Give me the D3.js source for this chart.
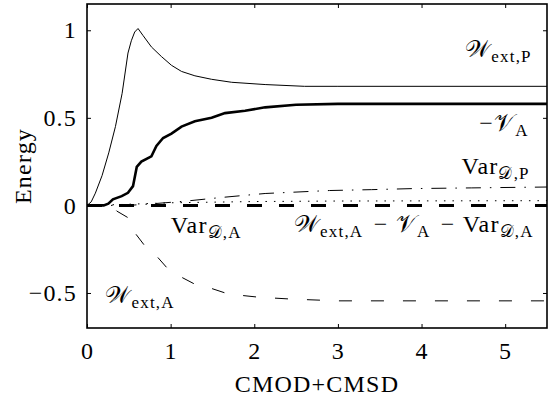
<!DOCTYPE html>
<html><head><meta charset="utf-8">
<script src="https://cdn.jsdelivr.net/npm/d3@7"></script>
<style>
html,body{margin:0;padding:0;background:#fff;}
svg text{font-family:'Liberation Serif','DejaVu Serif',serif !important;fill:#000;letter-spacing:1.2px;}
</style></head>
<body>
<svg id="c" width="554" height="402"></svg>
<script>
// ---- data ----
const xTicks = [0, 1, 2, 3, 4, 5];
const yTicks = [-0.5, 0, 0.5, 1];
const yTickLabels = ["\u22120.5", "0", "0.5", "1"];

const wextPX = [0, 0.05, 0.1, 0.18, 0.26, 0.34, 0.42, 0.49, 0.53, 0.57, 0.61, 0.67, 0.77, 0.89, 1.01, 1.13, 1.29, 1.49, 1.73, 2.13, 2.6, 3, 5.5];
const wextPY = [0, 0.02, 0.07, 0.17, 0.30, 0.45, 0.64, 0.87, 0.94, 0.99, 1.01, 0.97, 0.905, 0.85, 0.80, 0.765, 0.74, 0.72, 0.703, 0.69, 0.68, 0.68, 0.68];

const negVAX = [0, 0.2, 0.255, 0.31, 0.415, 0.49, 0.55, 0.595, 0.65, 0.77, 0.83, 0.91, 1.01, 1.13, 1.29, 1.49, 1.65, 1.89, 2.13, 2.5, 3, 5.5];
const negVAY = [0, 0, 0.01, 0.035, 0.053, 0.072, 0.11, 0.22, 0.25, 0.28, 0.34, 0.385, 0.41, 0.45, 0.48, 0.50, 0.527, 0.54, 0.56, 0.575, 0.58, 0.58];

const varDPX = [0, 0.5, 0.8, 1.17, 1.6, 2.13, 2.9, 3.4, 3.9, 4.6, 5.5];
const varDPY = [0, 0, 0.01, 0.024, 0.045, 0.068, 0.085, 0.09, 0.096, 0.1, 0.105];

const varDAX = [0, 0.4, 1, 2, 3, 5.5];
const varDAY = [0, 0.005, 0.015, 0.022, 0.025, 0.027];

const balX = [0, 5.5];
const balY = [0, 0];

const wextAX = [0, 0.3, 0.355, 0.49, 0.57, 0.69, 0.83, 0.97, 1.13, 1.29, 1.45, 1.69, 2.05, 2.45, 3, 5.5];
const wextAY = [0, 0, -0.032, -0.07, -0.155, -0.23, -0.288, -0.364, -0.41, -0.45, -0.468, -0.506, -0.524, -0.535, -0.545, -0.545];

// ---- layout ----
const FONT = "'Liberation Serif', 'DejaVu Serif', serif";
const FS = "24px", SUB = "17px";
const svg = d3.select("#c");
const L = 87, R = 547, T = 4, B = 328;
const x = d3.scaleLinear().domain([0, 5.5]).range([L, R]);
const y = d3.scaleLinear().domain([-0.7, 1.15]).range([B, T]);

const series = [
  {xs: wextPX, ys: wextPY, w: 1, dash: null},
  {xs: negVAX, ys: negVAY, w: 2.6, dash: null},
  {xs: varDPX, ys: varDPY, w: 1, dash: "15,9,1.5,9"},
  {xs: varDAX, ys: varDAY, w: 1, dash: "1.5,7"},
  {xs: balX, ys: balY, w: 3, dash: "15,17"},
  {xs: wextAX, ys: wextAY, w: 1, dash: "13,19"}
];

const line = d3.line().x(d => x(d[0])).y(d => y(d[1]));
const g = svg.append("g");
g.append("clipPath").attr("id", "clip").append("rect")
  .attr("x", L).attr("y", T).attr("width", R - L).attr("height", B - T);
const plot = g.append("g").attr("clip-path", "url(#clip)");
series.forEach(s => {
  plot.append("path")
    .datum(s.xs.map((v, i) => [v, s.ys[i]]))
    .attr("d", line)
    .attr("fill", "none")
    .attr("stroke", "#000")
    .attr("stroke-width", s.w)
    .attr("stroke-dasharray", s.dash);
});

// axes (ticks inward, mirrored)
const tl = 4;
const axB = d3.axisBottom(x).tickValues(xTicks).tickSize(-tl).tickPadding(14).tickFormat(d3.format("d"));
const axT = d3.axisTop(x).tickValues(xTicks).tickSize(-tl).tickFormat("");
const axL = d3.axisLeft(y).tickValues(yTicks).tickSize(-tl).tickPadding(10).tickFormat((d, i) => yTickLabels[i]);
const axR = d3.axisRight(y).tickValues(yTicks).tickSize(-tl).tickFormat("");
function style(sel) {
  sel.attr("font-family", null).attr("font-size", null);
  sel.select(".domain").remove();
  sel.selectAll("line").attr("stroke", "#000").attr("stroke-width", 1);
  sel.selectAll("text").style("font-family", FONT).style("font-size", FS).attr("fill", "#000");
}
svg.append("g").attr("transform", `translate(0,${B})`).call(axB).call(style);
svg.append("g").attr("transform", `translate(0,${T})`).call(axT).call(style);
svg.append("g").attr("transform", `translate(${L},0)`).call(axL).call(style);
svg.append("g").attr("transform", `translate(${R},0)`).call(axR).call(style);

svg.append("rect").attr("x", L).attr("y", T).attr("width", R - L).attr("height", B - T)
  .attr("fill", "none").attr("stroke", "#000").attr("stroke-width", 1.6);

// axis titles
svg.append("text").attr("x", (L + R) / 2).attr("y", 392).attr("text-anchor", "middle")
  .style("font-family", FONT).style("font-size", FS).text("CMOD+CMSD");
svg.append("text").attr("transform", `translate(31,${(T + B) / 2}) rotate(-90)`)
  .attr("text-anchor", "middle").style("font-family", FONT).style("font-size", FS).text("Energy");

// math labels
const SW = "\u{1D4B2}", SV = "\u{1D4B1}", SD = "\u{1D49F}";
function label(xp, yp, parts, anchor) {
  const t = svg.append("text").attr("x", xp).attr("y", yp).attr("text-anchor", anchor || "end")
    .style("font-family", FONT).style("font-size", FS);
  parts.forEach(p => {
    if (p.sub) {
      t.append("tspan").style("font-size", SUB).attr("dy", 5).text(p.t);
      t.append("tspan").style("font-size", FS).attr("dy", -5).text("\u200A");
    } else {
      t.append("tspan").text(p.t);
    }
  });
  return t;
}
label(535, 57, [{t: SW}, {t: "ext,P", sub: true}]);
label(532, 131, [{t: "\u2212" + SV}, {t: "A", sub: true}]);
label(533, 174, [{t: "Var"}, {t: SD + ",P", sub: true}]);
label(537, 232, [{t: SW}, {t: "ext,A", sub: true}, {t: "\u2005\u2212\u2005" + SV}, {t: "A", sub: true}, {t: "\u2005\u2212\u2005Var"}, {t: SD + ",A", sub: true}]);
label(245, 233, [{t: "Var"}, {t: SD + ",A", sub: true}]);
label(178, 303, [{t: SW}, {t: "ext,A", sub: true}]);
</script>
</body></html>
